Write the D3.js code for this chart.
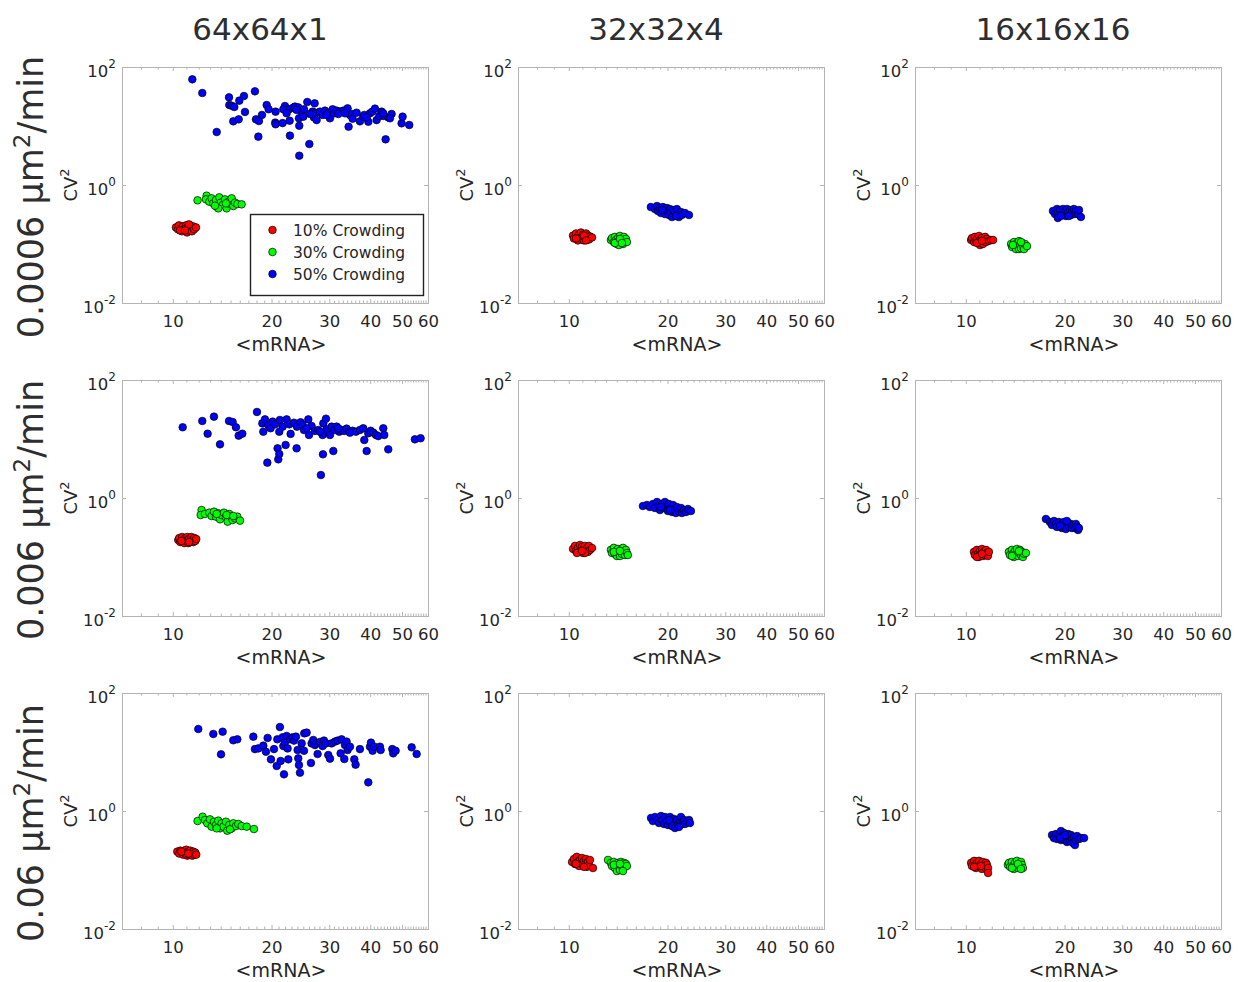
<!DOCTYPE html>
<html>
<head>
<meta charset="utf-8">
<script src="https://cdn.jsdelivr.net/npm/d3@7"></script>
<style>
  html, body { margin: 0; padding: 0; background: #ffffff; }
  svg { display: block; font-family: "DejaVu Sans", Verdana, sans-serif; }
</style>
</head>
<body>
<svg id="fig" width="1238" height="982"></svg>
<script>
// ---- labels --------------------------------------------------------------
const columnTitles = ["64x64x1", "32x32x4", "16x16x16"];
const rowRates = ["0.0006", "0.006", "0.06"];
const seriesNames = ["10% Crowding", "30% Crowding", "50% Crowding"];
const seriesColors = ["#ff0000", "#00ff00", "#0000ff"];
const xTickValues = [10, 20, 30, 40, 50, 60];
const xMinorTicks = [8, 9, 11, 12, 13, 14, 15, 16, 17, 18, 19, 21, 22, 23, 24, 25, 26, 27, 28, 29,
  31, 32, 33, 34, 35, 36, 37, 38, 39, 41, 42, 43, 44, 45, 46, 47, 48, 49, 51, 52, 53, 54, 55, 56, 57, 58, 59];
const yTickValues = [0.01, 1, 100];
const xDomain = [7, 60];
const yDomain = [0.01, 100];

// ---- data: [<mRNA>, CV^2] per crowding level -----------------------------
// row 0 : 0.0006 um^2/min
const p00_red = [[10.22,0.191],[10.37,0.177],[10.44,0.207],[10.59,0.184],[10.66,0.164],[10.74,0.199],[10.82,0.177],[10.97,0.207],[10.97,0.184],[10.97,0.164],[11.05,0.157],[11.12,0.191],[11.20,0.170],[11.29,0.207],[11.36,0.184],[11.44,0.164],[11.52,0.199],[11.61,0.177],[11.77,0.191],[10.52,0.170],[11.20,0.215],[10.89,0.170]];
const p00_green = [[11.90,0.550],[12.68,0.659],[12.62,0.571],[12.92,0.522],[13.13,0.594],[13.29,0.489],[13.54,0.557],[13.61,0.429],[13.86,0.618],[13.99,0.502],[14.19,0.458],[14.42,0.571],[14.59,0.402],[14.76,0.522],[14.94,0.476],[15.12,0.594],[15.29,0.441],[15.47,0.502],[15.73,0.476],[16.21,0.470],[13.76,0.402],[13.45,0.446],[14.52,0.489]];
const p00_blue = [[11.47,61.8],[12.30,36.3],[13.61,7.91],[14.84,30.6],[14.87,22.7],[15.12,22.1],[15.40,21.0],[15.95,26.9],[16.48,32.2],[16.60,17.3],[15.29,12.0],[15.88,12.97],[17.80,38.7],[17.93,12.97],[18.31,12.15],[18.23,6.60],[18.70,15.4],[19.33,22.7],[19.60,19.2],[20.58,17.5],[20.53,11.4],[20.58,10.7],[21.62,11.2],[21.98,21.8],[22.66,19.2],[22.71,12.3],[22.76,6.86],[23.30,20.5],[23.58,21.3],[24.13,20.7],[24.25,13.5],[24.30,10.1],[24.30,3.14],[24.71,17.5],[25.00,14.4],[25.71,25.5],[26.08,4.95],[26.69,17.5],[26.94,14.0],[27.07,24.2],[27.26,16.8],[27.45,12.6],[28.10,17.5],[28.63,15.4],[29.11,18.2],[29.93,16.8],[30.15,13.5],[30.72,19.2],[31.08,16.4],[31.59,18.2],[32.34,17.5],[33.10,18.2],[34.12,19.9],[34.36,9.74],[34.69,15.4],[35.18,16.0],[35.34,13.3],[36.35,16.8],[37.20,12.0],[38.08,14.4],[38.36,15.4],[39.46,11.8],[39.92,16.4],[40.58,17.5],[41.35,19.7],[41.83,12.6],[42.62,14.8],[43.32,17.5],[43.83,14.8],[44.56,5.94],[45.40,14.0],[46.47,16.0],[49.85,11.1],[50.2,14.4],[52.6,10.4],[45.93,13.5],[21.73,19.2],[22.24,16.4],[23.85,18.7],[25.12,19.2],[26.20,16.0],[29.44,15.4],[31.96,16.0],[33.49,16.4],[39.0,14.0],[43.83,16.4]];

const p01_red = [[10.30,0.139],[10.37,0.124],[10.52,0.151],[10.59,0.129],[10.66,0.115],[10.74,0.145],[10.82,0.129],[10.89,0.157],[10.97,0.134],[10.97,0.119],[11.05,0.145],[11.12,0.115],[11.20,0.129],[11.29,0.151],[11.36,0.124],[11.44,0.139],[11.52,0.119],[11.61,0.134],[11.77,0.129],[10.52,0.124],[11.12,0.139],[11.29,0.115]];
const p01_green = [[13.44,0.117],[13.54,0.126],[13.72,0.108],[13.82,0.132],[13.92,0.117],[14.02,0.100],[14.12,0.126],[14.22,0.113],[14.22,0.096],[14.32,0.137],[14.42,0.108],[14.52,0.122],[14.63,0.100],[14.73,0.132],[14.83,0.113],[14.93,0.122],[15.04,0.108],[13.82,0.104],[14.32,0.122],[14.52,0.104]];
const p01_blue = [[17.79,0.423],[18.31,0.391],[18.58,0.440],[18.70,0.362],[18.96,0.407],[19.10,0.335],[19.36,0.423],[19.50,0.362],[19.64,0.322],[19.92,0.407],[20.06,0.348],[20.20,0.310],[20.34,0.391],[20.48,0.335],[20.78,0.376],[20.92,0.310],[21.06,0.348],[21.36,0.391],[21.52,0.322],[21.66,0.286],[21.99,0.348],[22.13,0.310],[22.61,0.335],[23.25,0.310],[19.24,0.376],[20.64,0.286],[21.22,0.298]];

const p02_red = [[10.38,0.117],[10.44,0.126],[10.60,0.108],[10.66,0.132],[10.74,0.113],[10.82,0.122],[10.90,0.104],[10.97,0.137],[11.05,0.117],[11.05,0.096],[11.13,0.108],[11.20,0.126],[11.28,0.100],[11.37,0.117],[11.45,0.132],[11.53,0.108],[11.60,0.122],[11.77,0.113],[11.93,0.117],[12.11,0.117],[10.82,0.104],[11.20,0.113]];
const p02_green = [[13.74,0.100],[13.84,0.089],[14.03,0.108],[14.13,0.092],[14.23,0.082],[14.33,0.104],[14.43,0.092],[14.53,0.082],[14.53,0.112],[14.63,0.096],[14.73,0.085],[14.85,0.104],[14.95,0.092],[15.05,0.082],[15.15,0.100],[15.37,0.092],[13.92,0.096],[14.73,0.108]];
const p02_blue = [[18.44,0.363],[18.71,0.323],[18.97,0.392],[19.09,0.336],[19.09,0.276],[19.37,0.377],[19.63,0.323],[19.78,0.392],[20.06,0.349],[20.20,0.298],[20.34,0.392],[20.48,0.336],[20.79,0.377],[20.93,0.310],[21.07,0.349],[21.37,0.392],[21.51,0.323],[21.67,0.363],[21.98,0.323],[22.14,0.377],[22.44,0.287],[20.62,0.298],[19.49,0.298]];

// row 1 : 0.006 um^2/min
const p10_red = [[10.39,0.194],[10.46,0.210],[10.54,0.179],[10.68,0.218],[10.76,0.194],[10.84,0.172],[10.91,0.210],[10.99,0.187],[11.07,0.218],[11.07,0.194],[11.15,0.172],[11.22,0.202],[11.30,0.179],[11.39,0.218],[11.47,0.194],[11.55,0.179],[11.62,0.210],[11.71,0.187],[11.79,0.202],[10.62,0.187],[11.22,0.179]];
const p10_green = [[12.24,0.626],[12.16,0.515],[12.53,0.536],[12.92,0.564],[13.13,0.495],[13.35,0.587],[13.54,0.483],[13.76,0.550],[13.93,0.435],[14.09,0.515],[14.32,0.564],[14.52,0.470],[14.70,0.397],[14.87,0.536],[15.04,0.483],[15.22,0.424],[15.47,0.452],[15.73,0.483],[16.03,0.413],[13.61,0.536],[14.59,0.515],[15.29,0.495]];
const p10_blue = [[10.72,15.8],[12.30,20.2],[12.77,12.3],[13.35,23.9],[13.93,8.12],[14.84,20.2],[15.22,19.4],[15.58,15.8],[15.88,11.4],[16.29,12.3],[18.06,28.7],[18.75,18.4],[18.88,13.3],[19.10,21.5],[19.42,3.97],[19.55,17.3],[19.87,15.2],[20.16,19.7],[20.49,17.7],[20.87,6.95],[20.97,4.52],[21.12,13.3],[21.21,21.0],[21.12,5.57],[21.62,16.2],[22.08,7.91],[22.24,21.5],[22.66,17.7],[22.87,12.2],[23.41,18.9],[23.85,6.95],[23.91,16.2],[24.53,19.2],[24.88,17.3],[25.12,14.2],[25.89,21.5],[26.02,11.7],[26.50,16.6],[27.13,13.7],[27.77,14.2],[28.29,2.45],[28.63,11.7],[28.77,18.4],[28.70,5.50],[29.31,22.1],[29.44,14.6],[29.86,13.7],[30.15,11.7],[30.50,16.2],[30.86,6.26],[31.22,14.2],[31.59,16.2],[32.18,13.3],[32.71,14.2],[33.34,13.7],[33.88,15.0],[34.52,13.3],[35.34,13.8],[36.18,13.3],[37.20,14.2],[38.08,15.2],[38.36,9.62],[39.00,6.26],[39.45,12.5],[40.11,13.8],[40.86,12.8],[41.64,11.7],[42.31,11.2],[43.83,15.2],[44.14,11.7],[45.39,6.68],[54.73,9.87],[56.96,10.3],[34.69,12.8],[31.96,15.2],[28.10,13.3],[25.59,15.2]];

const p11_red = [[10.30,0.137],[10.44,0.154],[10.52,0.127],[10.66,0.142],[10.74,0.122],[10.82,0.160],[10.89,0.132],[10.97,0.148],[11.05,0.117],[11.12,0.137],[11.20,0.154],[11.29,0.127],[11.36,0.142],[11.44,0.122],[11.52,0.154],[11.61,0.132],[11.77,0.142],[10.59,0.117],[11.20,0.117],[10.97,0.127]];
const p11_green = [[13.44,0.132],[13.54,0.117],[13.72,0.143],[13.82,0.113],[13.92,0.127],[14.02,0.104],[14.12,0.137],[14.22,0.117],[14.32,0.104],[14.42,0.132],[14.52,0.113],[14.63,0.143],[14.73,0.122],[14.83,0.108],[14.93,0.132],[15.04,0.117],[15.14,0.108],[13.72,0.122],[14.32,0.127]];
const p11_blue = [[16.83,0.732],[17.31,0.761],[17.67,0.704],[18.05,0.791],[18.31,0.677],[18.58,0.856],[18.84,0.732],[18.96,0.626],[19.24,0.791],[19.50,0.677],[19.64,0.856],[19.92,0.732],[20.06,0.602],[20.20,0.791],[20.48,0.677],[20.64,0.579],[20.78,0.761],[21.06,0.651],[21.22,0.556],[21.36,0.704],[21.66,0.602],[21.99,0.677],[22.13,0.556],[22.45,0.626],[22.77,0.579],[23.09,0.651],[23.57,0.602],[19.10,0.704],[20.34,0.626]];

const p12_red = [[10.59,0.122],[10.66,0.108],[10.81,0.132],[10.89,0.113],[10.96,0.100],[11.04,0.126],[11.12,0.113],[11.20,0.137],[11.28,0.104],[11.35,0.122],[11.44,0.108],[11.52,0.132],[11.60,0.117],[11.68,0.104],[11.76,0.122],[10.81,0.100],[11.20,0.113]];
const p12_green = [[13.53,0.122],[13.63,0.108],[13.82,0.132],[13.92,0.113],[14.02,0.100],[14.12,0.126],[14.22,0.113],[14.32,0.137],[14.42,0.104],[14.52,0.117],[14.62,0.132],[14.74,0.108],[14.84,0.122],[14.94,0.100],[15.04,0.113],[15.25,0.117],[13.82,0.104],[14.52,0.126]];
const p12_blue = [[17.55,0.441],[18.05,0.392],[18.31,0.349],[18.58,0.408],[18.84,0.363],[18.96,0.323],[19.24,0.392],[19.50,0.349],[19.64,0.310],[19.92,0.392],[20.06,0.336],[20.20,0.298],[20.48,0.377],[20.64,0.323],[20.92,0.363],[21.06,0.310],[21.22,0.349],[21.52,0.310],[21.66,0.363],[21.83,0.323],[21.99,0.287],[22.13,0.310],[19.36,0.336],[20.34,0.408]];

// row 2 : 0.06 um^2/min
const p20_red = [[10.32,0.205],[10.46,0.190],[10.54,0.213],[10.68,0.197],[10.76,0.182],[10.84,0.213],[10.91,0.190],[10.99,0.221],[11.07,0.197],[11.07,0.175],[11.15,0.205],[11.22,0.182],[11.30,0.213],[11.39,0.190],[11.47,0.175],[11.55,0.205],[11.62,0.182],[11.71,0.197],[11.79,0.182],[10.62,0.205],[11.15,0.190]];
const p20_green = [[11.90,0.677],[12.33,0.801],[12.53,0.704],[12.74,0.618],[12.98,0.722],[13.13,0.543],[13.35,0.659],[13.54,0.579],[13.76,0.686],[13.93,0.508],[14.09,0.618],[14.26,0.543],[14.52,0.659],[14.66,0.464],[14.87,0.579],[15.12,0.508],[15.29,0.618],[15.58,0.557],[15.84,0.602],[16.21,0.557],[16.80,0.543],[17.68,0.495],[13.61,0.508],[14.94,0.489]];
const p20_blue = [[11.96,24.5],[13.29,20.2],[14.19,22.1],[14.03,9.13],[15.29,15.8],[15.73,16.4],[17.60,18.2],[17.80,11.2],[18.23,11.5],[18.88,12.8],[19.23,10.1],[19.46,17.3],[19.92,7.51],[20.35,11.2],[20.74,5.79],[20.83,16.4],[21.21,26.5],[21.32,7.04],[21.62,17.7],[21.73,12.6],[21.83,4.18],[21.98,14.6],[22.24,18.7],[22.39,11.5],[22.50,7.51],[22.76,16.4],[23.20,17.7],[23.41,15.6],[23.74,18.2],[24.02,10.8],[24.13,7.81],[24.25,6.02],[24.42,4.46],[24.71,14.0],[25.12,10.5],[25.17,20.7],[25.59,21.3],[26.38,6.51],[26.50,14.0],[26.81,16.0],[27.13,13.1],[27.45,14.0],[27.64,9.25],[28.10,14.8],[28.63,12.6],[28.90,15.6],[29.31,14.0],[29.79,8.89],[30.15,7.71],[30.50,14.0],[31.22,15.0],[31.81,15.6],[32.49,9.49],[32.71,16.4],[33.34,7.61],[33.49,13.1],[33.88,15.0],[34.12,10.8],[34.69,12.3],[35.76,7.51],[36.09,6.10],[37.20,11.2],[39.45,3.06],[39.92,12.3],[40.20,14.4],[40.67,10.5],[41.15,12.3],[42.82,12.3],[43.03,10.8],[46.69,11.2],[47.0,9.49],[47.8,10.5],[53.5,12.0],[55.4,9.25]];

const p21_red = [[10.23,0.137],[10.37,0.154],[10.44,0.127],[10.58,0.167],[10.66,0.137],[10.74,0.117],[10.81,0.148],[10.89,0.132],[10.97,0.160],[11.04,0.122],[11.12,0.142],[11.21,0.127],[11.28,0.154],[11.36,0.113],[11.43,0.137],[11.52,0.122],[11.60,0.148],[11.85,0.108],[10.51,0.127],[11.12,0.113]];
const p21_green = [[13.17,0.148],[13.44,0.132],[13.54,0.117],[13.72,0.137],[13.82,0.108],[13.92,0.122],[14.02,0.096],[14.12,0.132],[14.22,0.113],[14.32,0.100],[14.42,0.137],[14.52,0.117],[14.63,0.104],[14.73,0.132],[14.83,0.113],[14.93,0.127],[15.04,0.117],[13.72,0.122],[14.32,0.127],[14.63,0.096]];
const p21_blue = [[17.81,0.761],[18.05,0.677],[18.32,0.791],[18.58,0.704],[18.84,0.626],[19.11,0.823],[19.23,0.704],[19.52,0.602],[19.64,0.791],[19.92,0.677],[20.07,0.579],[20.35,0.791],[20.49,0.651],[20.63,0.556],[20.94,0.732],[21.08,0.626],[21.08,0.515],[21.37,0.704],[21.53,0.579],[21.84,0.677],[21.98,0.791],[22.14,0.602],[22.45,0.704],[22.61,0.602],[22.93,0.677],[23.26,0.704],[23.42,0.626],[20.21,0.704],[21.67,0.535]];

const p22_red = [[10.38,0.132],[10.44,0.117],[10.60,0.143],[10.66,0.122],[10.74,0.108],[10.82,0.132],[10.90,0.117],[10.97,0.143],[11.05,0.113],[11.13,0.127],[11.20,0.104],[11.28,0.137],[11.37,0.117],[11.45,0.108],[11.53,0.132],[11.60,0.122],[11.69,0.108],[11.69,0.089],[10.60,0.113],[11.13,0.117]];
const p22_green = [[13.44,0.122],[13.54,0.132],[13.64,0.113],[13.82,0.137],[13.92,0.117],[14.02,0.104],[14.12,0.132],[14.22,0.117],[14.32,0.143],[14.42,0.108],[14.52,0.127],[14.63,0.113],[14.73,0.137],[14.83,0.122],[14.93,0.108],[13.82,0.108],[14.42,0.127],[14.73,0.104]];
const p22_blue = [[18.32,0.391],[18.57,0.348],[18.83,0.407],[18.97,0.335],[19.23,0.376],[19.51,0.458],[19.51,0.322],[19.79,0.362],[19.93,0.423],[20.07,0.322],[20.21,0.376],[20.35,0.298],[20.51,0.407],[20.65,0.348],[20.79,0.310],[20.93,0.391],[21.09,0.335],[21.23,0.286],[21.38,0.362],[21.52,0.265],[21.68,0.322],[21.84,0.376],[22.14,0.335],[22.46,0.348],[22.94,0.348],[19.37,0.348],[20.07,0.391]];

// panel table: [row][col] -> series list in plotting order
const panelData = [
  [[p00_red, p00_green, p00_blue], [p01_red, p01_green, p01_blue], [p02_red, p02_green, p02_blue]],
  [[p10_red, p10_green, p10_blue], [p11_red, p11_green, p11_blue], [p12_red, p12_green, p12_blue]],
  [[p20_red, p20_green, p20_blue], [p21_red, p21_green, p21_blue], [p22_red, p22_green, p22_blue]]
];

// ---- layout ---------------------------------------------------------------
const colLeft = [122, 518, 915];
const rowTop = [67, 380, 693];
const plotW = 306, plotH = 236;
const textColor = "#262626";
const axisColor = "#b4b4b4";
const markerR = 3.8;

const svg = d3.select("#fig");
svg.append("rect").attr("width", 1238).attr("height", 982).attr("fill", "#fff");

const x = d3.scaleLog().domain(xDomain).range([0, plotW]);
const y = d3.scaleLog().domain(yDomain).range([plotH, 0]);

// column titles
columnTitles.forEach((t, c) => {
  svg.append("text")
    .attr("x", colLeft[c] + plotW / 2 - 15)
    .attr("y", 40)
    .attr("text-anchor", "middle")
    .attr("font-size", 31)
    .attr("fill", "#2e2e2e")
    .text(t);
});

// row labels (diffusion rate)
rowRates.forEach((r, i) => {
  const cy = rowTop[i] + plotH / 2 + 12;
  const t = svg.append("text")
    .attr("transform", `translate(43,${cy}) rotate(-90)`)
    .attr("text-anchor", "middle")
    .attr("font-size", 35)
    .attr("fill", "#2e2e2e");
  t.append("tspan").text(r + " μm");
  t.append("tspan").attr("font-size", 23).attr("dy", -13).text("2");
  t.append("tspan").attr("dy", 13).text("/min");
});

function styleAxis(g) {
  g.select(".domain").remove();
  g.selectAll(".tick line").attr("stroke", axisColor).attr("stroke-width", 1);
  g.selectAll(".tick text").attr("fill", textColor).attr("font-family", "DejaVu Sans, sans-serif");
}

for (let r = 0; r < 3; r++) {
  for (let c = 0; c < 3; c++) {
    const g = svg.append("g").attr("transform", `translate(${colLeft[c]},${rowTop[r]})`);

    // minor x ticks, bottom and top
    g.append("g").attr("transform", `translate(0,${plotH})`)
      .call(d3.axisBottom(x).tickValues(xMinorTicks).tickSize(-2.5).tickFormat(""))
      .call(styleAxis);
    g.append("g")
      .call(d3.axisTop(x).tickValues(xMinorTicks).tickSize(-2.5).tickFormat(""))
      .call(styleAxis);

    // major x ticks with labels
    g.append("g").attr("transform", `translate(0,${plotH})`)
      .call(d3.axisBottom(x).tickValues(xTickValues).tickSize(-4).tickPadding(12.5).tickFormat(d3.format("d")))
      .call(styleAxis)
      .call(a => a.selectAll(".tick text").attr("font-size", 16.5));
    g.append("g")
      .call(d3.axisTop(x).tickValues(xTickValues).tickSize(-4).tickFormat(""))
      .call(styleAxis);

    // y ticks, left with 10^n labels, right plain
    g.append("g")
      .call(d3.axisLeft(y).tickValues(yTickValues).tickSize(-4).tickPadding(6).tickFormat(""))
      .call(styleAxis)
      .call(a => a.selectAll(".tick text").each(function (d) {
        const t = d3.select(this).attr("font-size", 16.5).attr("dy", "0.55em");
        t.append("tspan").text("10");
        t.append("tspan").attr("font-size", 12).attr("dy", -9).text(String(Math.round(Math.log10(d))));
      }));
    g.append("g").attr("transform", `translate(${plotW},0)`)
      .call(d3.axisRight(y).tickValues(yTickValues).tickSize(-4).tickFormat(""))
      .call(styleAxis);

    // axes box
    g.append("rect")
      .attr("x", 0.5).attr("y", 0.5)
      .attr("width", plotW).attr("height", plotH)
      .attr("fill", "none").attr("stroke", axisColor).attr("stroke-width", 1);

    // axis labels
    const yl = g.append("text")
      .attr("transform", `translate(-45,${plotH / 2}) rotate(-90)`)
      .attr("text-anchor", "middle")
      .attr("font-size", 18)
      .attr("fill", textColor);
    yl.append("tspan").text("CV");
    yl.append("tspan").attr("font-size", 13).attr("dy", -8).text("2");

    g.append("text")
      .attr("x", plotW / 2 + 6)
      .attr("y", plotH + 48)
      .attr("text-anchor", "middle")
      .attr("font-size", 19)
      .attr("fill", textColor)
      .text("<mRNA>");

    // scatter points
    panelData[r][c].forEach((series, s) => {
      g.append("g").selectAll("circle")
        .data(series)
        .join("circle")
        .attr("cx", d => x(d[0]))
        .attr("cy", d => y(d[1]))
        .attr("r", markerR)
        .attr("fill", seriesColors[s])
        .attr("stroke", "#000")
        .attr("stroke-width", 0.7);
    });

    // legend in the first panel
    if (r === 0 && c === 0) {
      const lg = g.append("g").attr("transform", `translate(${250.5 - colLeft[0]},${214.5 - rowTop[0]})`);
      lg.append("rect").attr("width", 173).attr("height", 81)
        .attr("fill", "#fff").attr("stroke", "#222").attr("stroke-width", 1.4);
      seriesNames.forEach((name, s) => {
        const yy = 15.5 + s * 22;
        lg.append("circle").attr("cx", 22).attr("cy", yy).attr("r", markerR)
          .attr("fill", seriesColors[s]).attr("stroke", "#000").attr("stroke-width", 0.7);
        lg.append("text").attr("x", 42.5).attr("y", yy + 5.5)
          .attr("font-size", 15.5).attr("fill", textColor).text(name);
      });
    }
  }
}
</script>
</body>
</html>
